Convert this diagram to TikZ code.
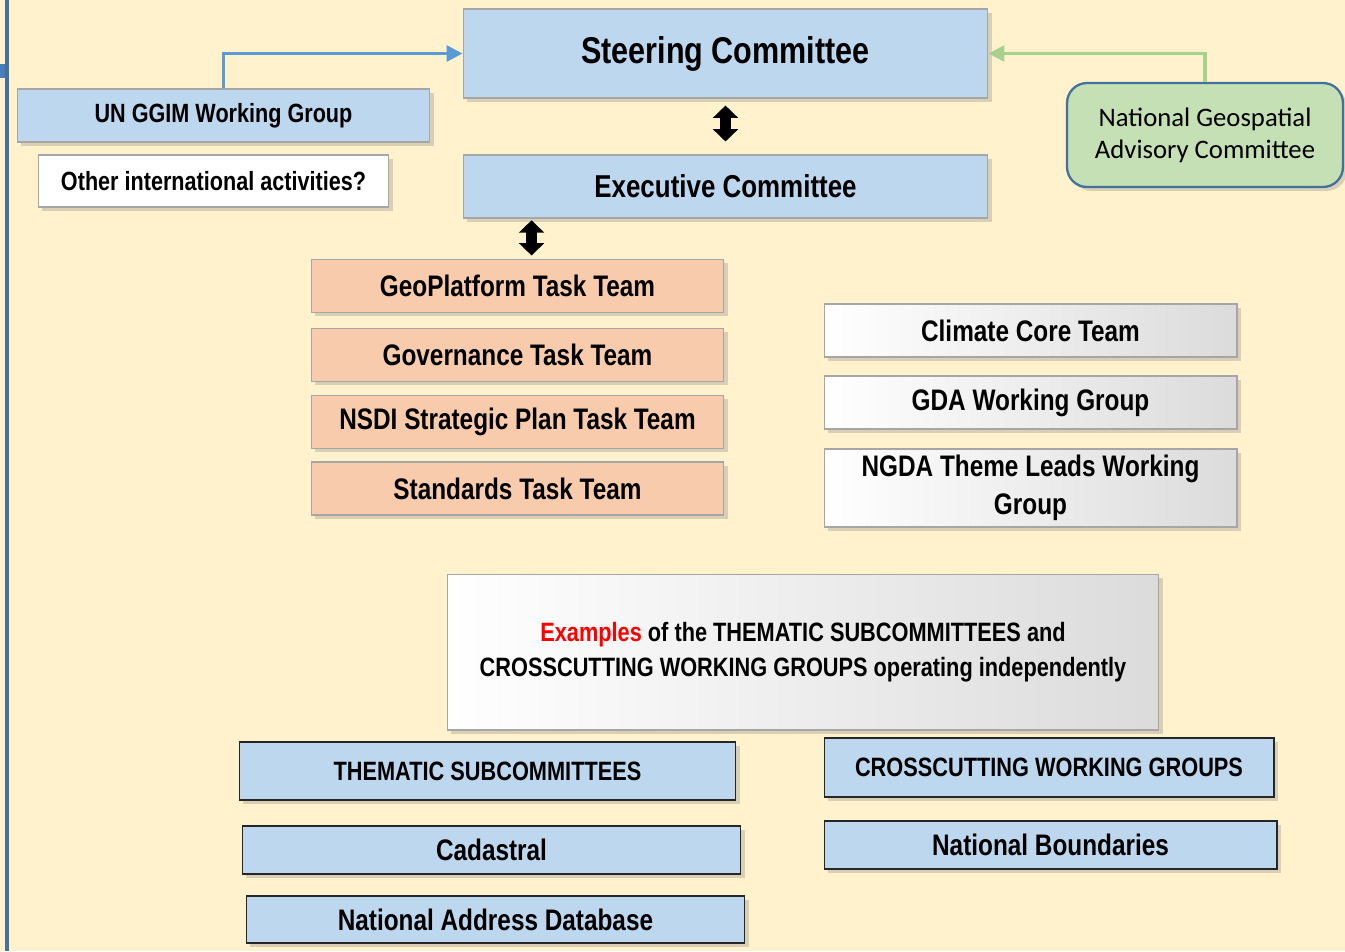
\documentclass[tikz,border=0pt]{standalone}
\usepackage{fontspec}
\setmainfont{Liberation Sans}[FakeStretch=0.82]
\newfontfamily\carlito{Carlito}
\usetikzlibrary{arrows.meta,shadows}

\definecolor{bgcream}{HTML}{FFF2CC}
\definecolor{boxblue}{HTML}{BDD7EE}
\definecolor{boxsalmon}{HTML}{F8CBAD}
\definecolor{boxgreen}{HTML}{C5E0B4}
\definecolor{edgeblue}{HTML}{41719C}
\definecolor{linkblue}{HTML}{5B9BD5}
\definecolor{linkgreen}{HTML}{A9D18E}
\definecolor{tabblue}{HTML}{4A7EBB}

\tikzset{
  box/.style={draw=black!35, line width=0.6pt, align=center, inner sep=0pt,
    drop shadow={shadow xshift=2.2pt, shadow yshift=-2.2pt, opacity=0.3},
    font=\bfseries\fontsize{16.9}{21.5}\selectfont},
  bluebox/.style={box, fill=boxblue},
  taskbox/.style={box, fill=boxsalmon, minimum width=8.26cm, minimum height=1.06cm},
  graybox/.style={box, left color=white, right color=black!14, minimum width=8.26cm},
  subbox/.style={box, fill=boxblue, draw=black!85},
  capsfont/.style={font=\bfseries\fontsize{15.1}{20}\selectfont},
  dblarrow/.style={line width=6pt, {Triangle[width=14pt,length=7pt]}-{Triangle[width=14pt,length=7pt]}},
  link/.style={line width=1.9pt, -{Triangle[width=9pt,length=9pt]}},
}

\begin{document}
\begin{tikzpicture}[x=0.02cm,y=-0.02cm]
  \fill[bgcream] (0,0) rectangle (1345,951);
  \useasboundingbox (0,0) rectangle (1345,951);
  \draw[edgeblue, line width=1.8pt] (7,0) -- (7,951);
  \fill[tabblue] (0,64) rectangle (5,78);

  % committees
  \node[bluebox, minimum width=10.5cm, minimum height=1.78cm,
        font=\bfseries\fontsize{21.2}{25}\selectfont] (steer) at (725.5,53.5) {Steering Committee};
  \node[bluebox, minimum width=10.5cm, minimum height=1.26cm,
        font=\bfseries\fontsize{18}{22}\selectfont] (exec) at (725.5,186.5) {Executive Committee};
  \node[bluebox, minimum width=8.26cm, minimum height=1.06cm,
        font=\bfseries\fontsize{15}{18}\selectfont] (ungg) at (223.5,115.5) {UN GGIM Working Group};
  \node[box, fill=white, minimum width=7.02cm, minimum height=1.04cm,
        font=\bfseries\fontsize{15}{18}\selectfont] (other) at (213.5,181) {Other international activities?};
  \node[box, fill=boxgreen, draw=edgeblue, line width=1.3pt, rounded corners=0.4cm,
        minimum width=5.52cm, minimum height=2.08cm,
        font=\carlito\fontsize{15.2}{18.2}\selectfont] (ngac) at (1205,135) {National Geospatial\\Advisory Committee};

  \draw[dblarrow, shorten <=4pt, shorten >=7.4pt] (steer.south) -- (exec.north);
  \draw[link, linkblue] (ungg.north) |- (steer.west);
  \draw[link, linkgreen] (ngac.north) |- (steer.east);

  % task teams
  \node[taskbox] (geo) at (517.5,286) {GeoPlatform Task Team};
  \node[taskbox] (gov) at (517.5,355) {Governance Task Team};
  \node[taskbox] (nsdi) at (517.5,422) {NSDI Strategic Plan Task Team};
  \node[taskbox] (std) at (517.5,488.5) {Standards Task Team};

  \draw[dblarrow, shorten <=1pt, shorten >=2pt]
    ([xshift=8pt]geo.north |- exec.south) -- ([xshift=8pt]geo.north);

  % working groups
  \node[graybox, minimum height=1.06cm] (climate) at (1030.5,330.5) {Climate Core Team};
  \node[graybox, minimum height=1.06cm] (gda) at (1030.5,402.5) {GDA Working Group};
  \node[graybox, minimum height=1.56cm] (ngda) at (1030.5,488) {NGDA Theme Leads Working\\Group};

  % subcommittees
  \node[graybox, capsfont, minimum width=14.24cm, minimum height=3.12cm] (examples) at (803,652)
    {\textcolor{red}{Examples} of the THEMATIC SUBCOMMITTEES and\\CROSSCUTTING WORKING GROUPS operating independently};
  \node[subbox, capsfont, minimum width=9.94cm, minimum height=1.16cm] (thematic) at (487.5,771) {THEMATIC SUBCOMMITTEES};
  \node[subbox, minimum width=9.98cm, minimum height=0.96cm] (cadastral) at (491.5,850) {Cadastral};
  \node[subbox, minimum width=9.98cm, minimum height=0.94cm] (address) at (495.5,919.5) {National Address Database};
  \node[subbox, capsfont, minimum width=9.0cm, minimum height=1.18cm] (cross) at (1049,767.5) {CROSSCUTTING WORKING GROUPS};
  \node[subbox, minimum width=9.06cm, minimum height=0.96cm] (bound) at (1050.5,845) {National Boundaries};
\end{tikzpicture}
\end{document}
